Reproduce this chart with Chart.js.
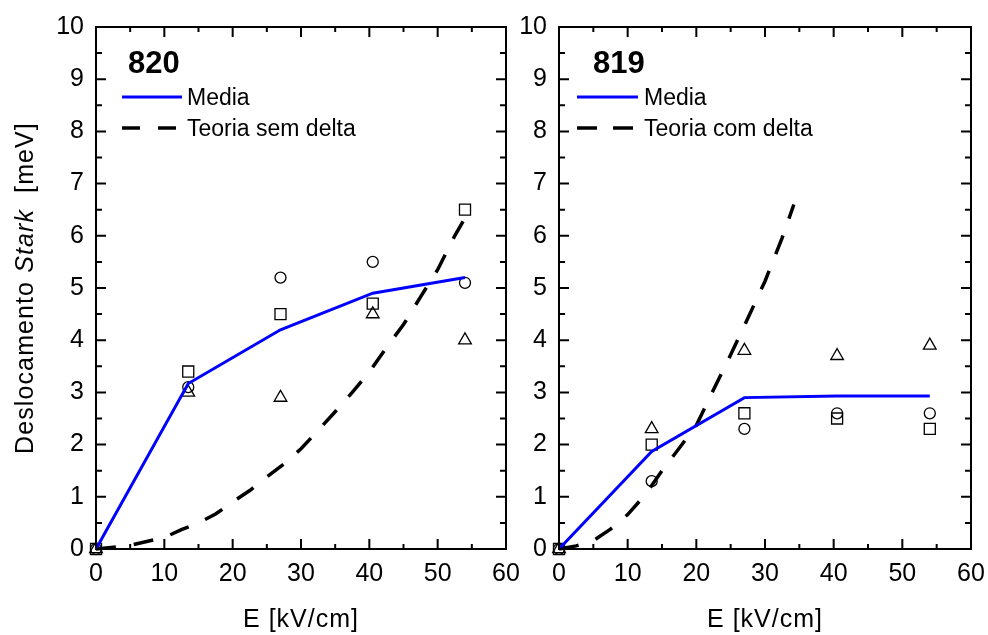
<!DOCTYPE html>
<html>
<head>
<meta charset="utf-8">
<script src="https://cdn.jsdelivr.net/npm/chart.js@4.4.1/dist/chart.umd.min.js"></script>
<style>
  html, body { margin: 0; padding: 0; background: #fff; }
  #wrap { position: relative; width: 988px; height: 635px; overflow: hidden; }
  canvas { position: absolute; top: 0; }
  #chart820 { left: 0; }
  #chart819 { left: 512px; }
</style>
</head>
<body>
<div id="wrap">
  <canvas id="chart820" width="530" height="635"></canvas>
  <canvas id="chart819" width="484" height="635"></canvas>
</div>
<script>
// campo elétrico aplicado (kV/cm)
const fieldE = [0, 13.5, 27, 40.5, 54];

// amostra 820
const media820 = [0, 3.17, 4.2, 4.9, 5.2];
const quad820 = [0, 3.4, 4.5, 4.7, 6.5];
const circ820 = [0, 3.1, 5.2, 5.5, 5.1];
const tri820 = [0, 3.0, 2.9, 4.5, 4.0];
const teoriaE820 = [0, 5, 10, 12.5, 15, 17.5, 20, 22.5, 25, 27.5, 30, 32.5, 35, 37.5, 40, 42.5, 45, 47.5, 50, 52.5, 55];
const teoria820 = [0, 0.07, 0.22, 0.37, 0.5, 0.67, 0.9, 1.12, 1.38, 1.63, 1.92, 2.27, 2.63, 3.0, 3.39, 3.86, 4.3, 4.83, 5.35, 6.0, 6.57];

// amostra 819
const media819 = [0, 1.87, 2.9, 2.93, 2.93];
const quad819 = [0, 2.0, 2.6, 2.5, 2.3];
const circ819 = [0, 1.3, 2.3, 2.6, 2.6];
const tri819 = [0, 2.3, 3.8, 3.7, 3.9];
const teoriaE819 = [0, 2.5, 5, 7.5, 10, 12.5, 15, 17.5, 20, 22.5, 25, 27.5, 30, 32.5, 34.2];
const teoria819 = [0, 0.06, 0.16, 0.38, 0.66, 1.03, 1.5, 1.93, 2.37, 3.05, 3.72, 4.42, 5.13, 5.96, 6.6];

const FONT = '"Liberation Sans", Arial, Helvetica, sans-serif';

function pairs(xs, ys) {
  return xs.map((x, i) => ({ x: x, y: ys[i] }));
}

// moldura com marcas para dentro nos quatro lados
const moldura = {
  id: 'moldura',
  afterDatasetsDraw(chart) {
    const { ctx, chartArea: a, scales: { x, y } } = chart;
    ctx.save();
    ctx.strokeStyle = '#000';
    ctx.lineWidth = 2;
    ctx.strokeRect(a.left, a.top, a.right - a.left, a.bottom - a.top);
    ctx.beginPath();
    for (let v = 0; v <= 60; v += 5) {
      const px = x.getPixelForValue(v);
      const len = v % 10 === 0 ? 10 : 5;
      ctx.moveTo(px, a.bottom); ctx.lineTo(px, a.bottom - len);
      ctx.moveTo(px, a.top); ctx.lineTo(px, a.top + len);
    }
    for (let v = 0; v <= 10; v += 0.5) {
      const py = y.getPixelForValue(v);
      const len = Number.isInteger(v) ? 10 : 6;
      ctx.moveTo(a.left, py); ctx.lineTo(a.left + len, py);
      ctx.moveTo(a.right, py); ctx.lineTo(a.right - len, py);
    }
    ctx.stroke();
    ctx.restore();
  }
};

// rótulo da amostra, legenda e títulos dos eixos
const anotacoes = {
  id: 'anotacoes',
  afterDraw(chart, args, o) {
    const { ctx, chartArea: a } = chart;
    const ds = chart.data.datasets;
    ctx.save();
    ctx.fillStyle = '#000';
    ctx.textAlign = 'left';
    ctx.textBaseline = 'alphabetic';

    ctx.font = 'bold 31px ' + FONT;
    ctx.fillText(o.amostra, o.amostraX, 73);

    [0, 1].forEach(i => {
      const yy = o.legendaY[i];
      ctx.beginPath();
      ctx.strokeStyle = ds[i].borderColor;
      ctx.lineWidth = ds[i].borderWidth;
      ctx.setLineDash(o.tracos[i]);
      ctx.moveTo(o.linhaX[0], yy);
      ctx.lineTo(o.linhaX[i + 1], yy);
      ctx.stroke();
      ctx.setLineDash([]);
      ctx.font = '23px ' + FONT;
      ctx.fillText(ds[i].label, o.textoX, yy + 8);
    });

    // título do eixo x
    ctx.font = '25px ' + FONT;
    ctx.letterSpacing = '1px';
    ctx.textAlign = 'center';
    ctx.fillText('E [kV/cm]', (a.left + a.right) / 2, 627);

    // título do eixo y, com Stark em itálico
    if (o.tituloY) {
      ctx.letterSpacing = '1.1px';
      const partes = [
        ['Deslocamento ', '25px ' + FONT],
        ['Stark', 'italic 25px ' + FONT],
        ['  [meV]', '25px ' + FONT]
      ];
      ctx.textAlign = 'left';
      let total = 0;
      partes.forEach(p => { ctx.font = p[1]; total += ctx.measureText(p[0]).width; });
      ctx.translate(33, (a.top + a.bottom) / 2);
      ctx.rotate(-Math.PI / 2);
      let cx = -total / 2;
      partes.forEach(p => {
        ctx.font = p[1];
        ctx.fillText(p[0], cx, 0);
        cx += ctx.measureText(p[0]).width;
      });
    }
    ctx.restore();
  }
};

function marker(style, radius, ys) {
  return {
    data: pairs(fieldE, ys),
    pointStyle: style,
    pointRadius: radius,
    pointBorderColor: '#000',
    pointBackgroundColor: 'rgba(0,0,0,0)',
    pointBorderWidth: 1.3,
    showLine: false,
    clip: false
  };
}

function panel(id, p) {
  new Chart(document.getElementById(id), {
    type: 'scatter',
    data: {
      datasets: [
        {
          label: 'Media',
          data: pairs(fieldE, p.media),
          showLine: true,
          borderColor: '#0000ff',
          borderWidth: 3,
          pointRadius: 0,
          clip: false
        },
        {
          label: p.teoriaLabel,
          data: pairs(p.teoriaE, p.teoria),
          showLine: true,
          borderColor: '#000',
          borderWidth: 3.5,
          borderDash: [20, 18],
          pointRadius: 0,
          clip: false
        },
        marker('rect', 7.8, p.quad),
        marker('circle', 5.5, p.circ),
        marker('triangle', 7.3, p.tri)
      ]
    },
    options: {
      responsive: false,
      animation: false,
      layout: { padding: { top: 21, right: p.padRight, left: 0, bottom: 0 } },
      plugins: {
        legend: { display: false },
        tooltip: { enabled: false },
        anotacoes: p.anotacoes
      },
      scales: {
        x: {
          type: 'linear',
          min: 0,
          max: 60,
          grid: { display: false, drawTicks: false },
          border: { display: false },
          ticks: { stepSize: 10, color: '#000', padding: 10, font: { family: FONT, size: 25 } },
          afterFit(s) { s.height = 86; }
        },
        y: {
          min: 0,
          max: 10,
          grid: { display: false, drawTicks: false },
          border: { display: false },
          ticks: { stepSize: 1, color: '#000', padding: 12, font: { family: FONT, size: 25 } },
          afterFit(s) { s.width = p.yWidth; }
        }
      }
    },
    plugins: [moldura, anotacoes]
  });
}

panel('chart820', {
  media: media820, quad: quad820, circ: circ820, tri: tri820,
  teoriaE: teoriaE820, teoria: teoria820, teoriaLabel: 'Teoria sem delta',
  yWidth: 96, padRight: 24,
  anotacoes: {
    amostra: '820', amostraX: 128, legendaY: [97, 128], linhaX: [122, 182, 177],
    tracos: [[], [18, 18]], textoX: 187, tituloY: true
  }
});

panel('chart819', {
  media: media819, quad: quad819, circ: circ819, tri: tri819,
  teoriaE: teoriaE819, teoria: teoria819, teoriaLabel: 'Teoria com delta',
  yWidth: 47, padRight: 25,
  anotacoes: {
    amostra: '819', amostraX: 81, legendaY: [97, 128], linhaX: [65, 126, 121],
    tracos: [[], [20, 16]], textoX: 132, tituloY: false
  }
});
</script>
</body>
</html>
